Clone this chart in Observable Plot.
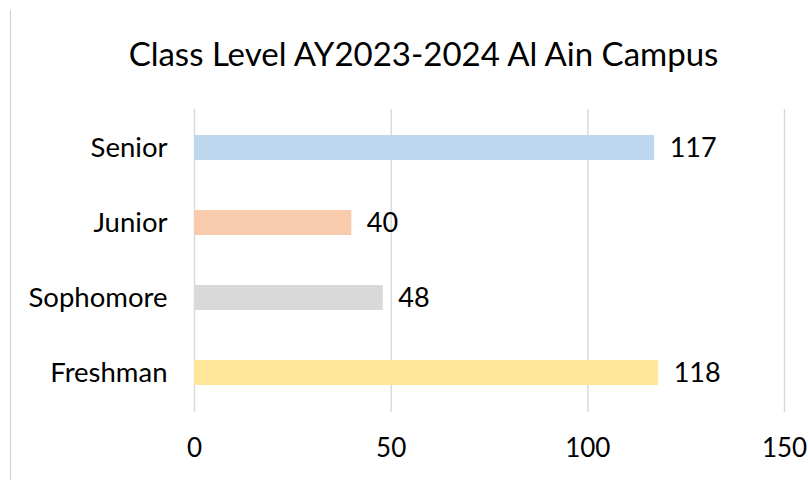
<!DOCTYPE html>
<html>
<head>
<meta charset="utf-8">
<script src="https://cdn.jsdelivr.net/npm/d3@7"></script>
<script src="https://cdn.jsdelivr.net/npm/@observablehq/plot@0.6"></script>
<style>
  html, body { margin: 0; padding: 0; background: #fff; }
  #wrap { position: relative; width: 809px; height: 480px; overflow: hidden; }
  #border { position: absolute; left: 10px; top: 10px; width: 0; height: 480px; border-left: 1px solid #d0d0d0; }
  #chart { position: absolute; left: 0; top: 0; }
</style>
</head>
<body>
<div id="wrap"><div id="border"></div><div id="chart"></div></div>
<script>
const categories = ["Senior", "Junior", "Sophomore", "Freshman"];
const counts = [117, 40, 48, 118];
const colors = ["#BDD7EE", "#F8CBAD", "#D9D9D9", "#FFE699"];
const xTicks = [0, 50, 100, 150];
const title = "Class Level AY2023-2024 Al Ain Campus";

const data = categories.map((c, i) => ({cat: c, count: counts[i]}));

const chart = Plot.plot({
  width: 809,
  height: 480,
  marginLeft: 194,
  marginRight: 25,
  marginTop: 109,
  marginBottom: 68,
  style: {fontFamily: "Lato, 'Open Sans', sans-serif", fontSize: "27.5px", color: "#000", background: "transparent"},
  x: {domain: [0, 150], ticks: xTicks, tickSize: 0, tickPadding: 26, label: null},
  y: {domain: categories, paddingInner: 0.66, paddingOuter: 0.33, tickSize: 0, tickPadding: 27, label: null},
  color: {domain: categories, range: colors},
  marks: [
    Plot.ruleX(xTicks, {stroke: "#d9d9d9", strokeWidth: 1.5}),
    Plot.barX(data, {x: "count", y: "cat", fill: "cat"}),
    Plot.text(data, {x: "count", y: "cat", text: d => String(d.count), textAnchor: "start", dx: 15, fontSize: 27, fill: "#000"}),
    Plot.text([title], {frameAnchor: "top-left", textAnchor: "middle", lineAnchor: "middle", dx: 229, dy: -54, fontSize: 33, fill: "#000"}),
    Plot.axisX({ticks: xTicks, tickSize: 0, tickPadding: 26, fontSize: 26})
  ]
});
document.getElementById("chart").appendChild(chart);
</script>
</body>
</html>
